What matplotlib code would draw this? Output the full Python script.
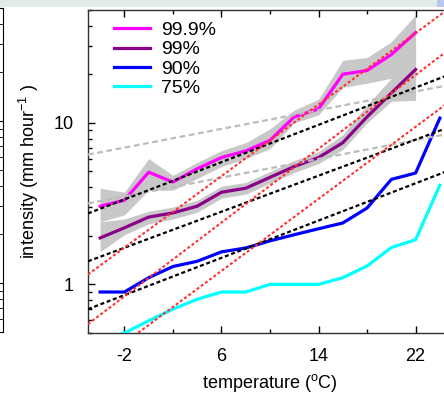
import matplotlib
matplotlib.use("Agg")
import matplotlib.pyplot as plt
from matplotlib.ticker import FixedLocator, LogLocator, NullFormatter, FixedFormatter
from matplotlib.patches import Rectangle

plt.rcParams['font.family'] = ['Liberation Sans', 'DejaVu Sans']
plt.rcParams['axes.unicode_minus'] = False
plt.rcParams['mathtext.fontset'] = 'custom'
plt.rcParams['mathtext.rm'] = 'Liberation Sans'
plt.rcParams['mathtext.it'] = 'Liberation Sans'

# percentile curves (mm/hour) against temperature (deg C)
temps = [-4, -2, 0, 2, 4, 6, 8, 10, 12, 14, 16, 18, 20, 22]
temps_long = temps + [24]

p999 = [3.05, 3.32, 4.95, 4.30, 5.2, 6.1, 6.7, 7.8, 10.9, 12.2, 20.0, 21.1, 26.5, 36.2]
p999_hi = [3.94, 3.72, 6.01, 4.73, 5.68, 6.73, 7.54, 9.19, 12.0, 14.0, 24.4, 25.4, 31.8, 46.6]
p999_lo = [2.44, 2.69, 3.83, 3.83, 4.53, 5.37, 6.01, 6.92, 10.0, 11.2, 16.6, 17.6, 18.9, 24.0]

p99 = [1.94, 2.24, 2.61, 2.77, 3.05, 3.72, 3.94, 4.60, 5.37, 6.10, 7.54, 10.9, 15.3, 21.4]
p99_hi = [2.44, 2.54, 2.84, 3.01, 3.32, 4.05, 4.28, 5.0, 5.85, 6.64, 8.44, 12.9, 18.9, 27.7]
p99_lo = [1.59, 2.03, 2.37, 2.54, 2.80, 3.42, 3.62, 4.22, 4.93, 5.6, 6.83, 10.0, 13.6, 13.8]

p90 = [0.897, 0.897, 1.10, 1.29, 1.39, 1.59, 1.68, 1.86, 2.03, 2.21, 2.40, 2.97, 4.47, 4.89, 10.7]
p75 = [0.45, 0.50, 0.595, 0.703, 0.809, 0.897, 0.897, 1.0, 1.0, 1.0, 1.10, 1.30, 1.69, 1.89, 4.11]

# scaling reference lines, value at each end of the x range
ref_T = [-5, 25]
gray_lines = [[6.36, 17.3], [3.17, 8.65]]
black_lines = [[2.75, 20.2], [1.39, 9.55], [0.703, 5.16]]
red_lines = [[1.152, 52.8], [0.568, 29.4], [0.295, 13.9]]

labels = ["99.9%", "99%", "90%", "75%"]
colors = ["#ff00ff", "#8b008b", "#0000ff", "#00ffff"]

fig = plt.figure(figsize=(4.44, 3.96), dpi=100)

# slide background strip at the top
fig.patches.append(Rectangle((0, 1 - 7 / 396), 1, 7 / 396, transform=fig.transFigure,
                             facecolor="#e3ebe7", edgecolor="none", zorder=0))
fig.patches.append(Rectangle((437 / 444, 1 - 7 / 396), 7 / 444, 7 / 396, transform=fig.transFigure,
                             facecolor="#b8c8f0", edgecolor="none", zorder=1))

# neighbouring panel, mostly off the left edge
ax0 = fig.add_axes([-0.5, 1 - 332 / 396, 0.5 + 3 / 444, 324 / 396])
ax0.set_yscale("log")
ax0.set_ylim(0.5, 50)
ax0.set_xticks([])
ax0.tick_params(axis="y", which="both", direction="in", right=True, labelleft=False, length=3)
ax0.tick_params(axis="y", which="major", length=5)

ax = fig.add_axes([88 / 444, 1 - 333 / 396, 364 / 444, 323 / 396])

ax.fill_between(temps, p999_lo, p999_hi, color="#c8c8c8", lw=0, zorder=1)
ax.fill_between(temps, p99_lo, p99_hi, color="#c8c8c8", lw=0, zorder=1)

ax.plot(temps, p999, color=colors[0], lw=2.3, label=labels[0], zorder=3)
ax.plot(temps, p99, color=colors[1], lw=2.3, label=labels[1], zorder=3)
ax.plot(temps_long, p90, color=colors[2], lw=2.3, label=labels[2], zorder=3)
ax.plot(temps_long, p75, color=colors[3], lw=2.3, label=labels[3], zorder=3)

for vals in gray_lines:
    ax.plot(ref_T, vals, color="#bcbcbc", lw=1.6, linestyle=(0, (2.6, 1.6)), zorder=4)
for vals in black_lines:
    ax.plot(ref_T, vals, color="black", lw=1.6, linestyle=(0, (1.8, 1.2)), zorder=4)
for vals in red_lines:
    ax.plot(ref_T, vals, color="#ff3030", lw=1.5, linestyle=(0, (1.4, 1.1)), zorder=4)

ax.set_yscale("log")
ax.set_xlim(-5, 25)
ax.set_ylim(0.5, 50)

ax.xaxis.set_major_locator(FixedLocator([-2, 6, 14, 22]))
ax.xaxis.set_minor_locator(FixedLocator([2, 10, 18]))
ax.yaxis.set_major_locator(FixedLocator([1, 10]))
ax.yaxis.set_major_formatter(FixedFormatter(["1", "10"]))
ax.yaxis.set_minor_locator(LogLocator(base=10, subs=range(2, 10)))
ax.yaxis.set_minor_formatter(NullFormatter())

ax.tick_params(axis="both", which="both", direction="in", top=True, right=True,
               labelsize=13, width=1)
ax.tick_params(axis="both", which="major", length=5)
ax.tick_params(axis="both", which="minor", length=3)
ax.tick_params(axis="x", which="major", pad=11)
ax.tick_params(axis="y", which="major", pad=10)
for s in ax.spines.values():
    s.set_linewidth(1)
    s.set_color("#303030")

ax.set_xlabel(r"temperature ($^{\rm o}$C)", fontsize=13, labelpad=5)
ax.set_ylabel(r"intensity (mm hour$^{-1}$ )", fontsize=13, labelpad=9)

ax.legend(loc="upper left", bbox_to_anchor=(0.04, 1.0), frameon=False, fontsize=14,
          handlelength=1.85, handletextpad=0.55, labelspacing=0.08, borderaxespad=0.2)

fig.savefig("out.png", dpi=100)
